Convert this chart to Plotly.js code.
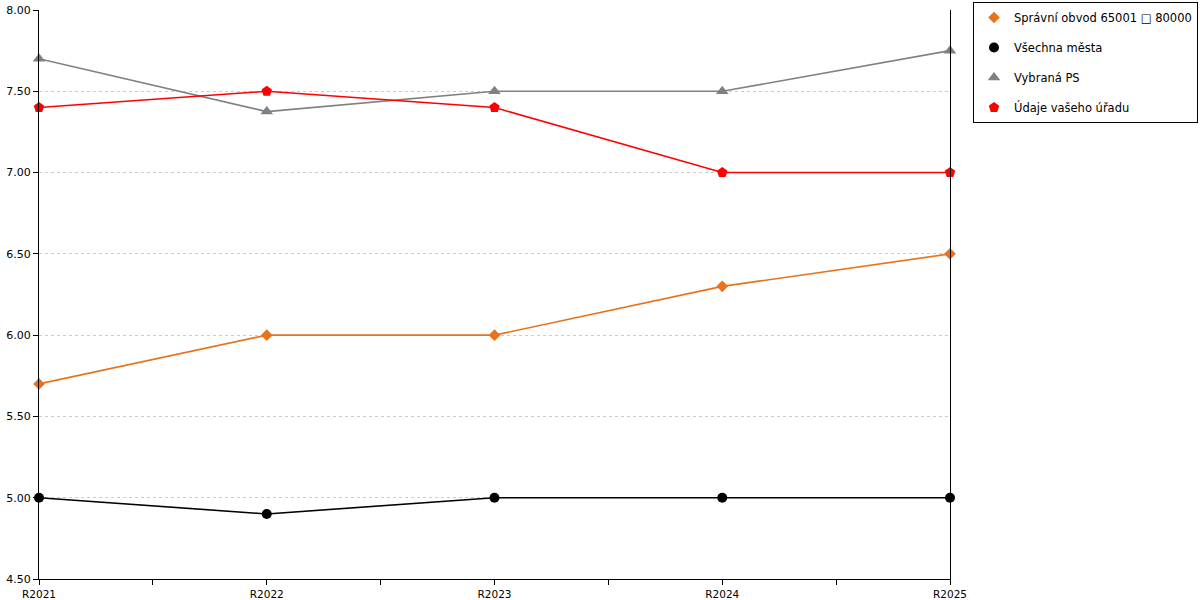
<!DOCTYPE html>
<html><head><meta charset="utf-8">
<script src="https://cdn.plot.ly/plotly-3.0.1.min.js"></script>
<style>html,body{margin:0;padding:0;background:#fff}#chart{width:1200px;height:600px}</style>
</head><body><div id="chart"></div>
<script>
const categories = ["R2021","R2022","R2023","R2024","R2025"];
const spravniObvod = [5.70, 6.00, 6.00, 6.30, 6.50];
const vsechnaMesta = [5.00, 4.90, 5.00, 5.00, 5.00];
const vybranaPS = [7.70, 7.375, 7.50, 7.50, 7.75];
const udajeUradu = [7.40, 7.50, 7.40, 7.00, 7.00];
const seriesNames = ["Správní obvod 65001 □ 80000","Všechna města","Vybraná PS","Údaje vašeho úřadu"];
const yTicks = [4.5,5.0,5.5,6.0,6.5,7.0,7.5,8.0];

const xIdx = categories.map((c,i)=>i);
const tickvals = [], ticktext = [];
categories.forEach((c,i)=>{ tickvals.push(i); ticktext.push(c); if(i<categories.length-1){tickvals.push(i+0.5); ticktext.push("");} });

const series = [
  {y:spravniObvod,name:seriesNames[0],color:'#E8731C',symbol:'diamond',size:9},
  {y:vsechnaMesta,name:seriesNames[1],color:'#000000',symbol:'circle',size:10},
  {y:vybranaPS,name:seriesNames[2],color:'#808080',symbol:'triangle-up',size:11},
  {y:udajeUradu,name:seriesNames[3],color:'#FF0000',symbol:'pentagon',size:11}
];
const data = [];
series.forEach((s,i)=>{
  data.push({x:xIdx,y:s.y,name:s.name,type:'scatter',mode:'lines+markers',
    line:{color:s.color,width:1.6},marker:{color:s.color,symbol:s.symbol,size:s.size},
    showlegend:false,cliponaxis:false,
    hovertemplate:'%{y:.2f}<extra>'+s.name+'</extra>'});
});
series.forEach((s,i)=>{
  data.push({x:[null],y:[null],name:s.name,type:'scatter',mode:'markers',
    marker:{color:s.color,symbol:s.symbol,size:s.size},
    legendgroup:'g'+i,showlegend:true,hoverinfo:'skip'});
});
const layout = {
  width:1200,height:600,
  margin:{l:39,r:250,t:10,b:21,autoexpand:false},
  paper_bgcolor:'#fff',plot_bgcolor:'#fff',
  font:{family:'DejaVu Sans, Verdana, sans-serif',size:11,color:'#000'},
  showlegend:true,
  legend:{x:(973-39)/911,xanchor:'left',y:1+8/569,yanchor:'top',
    bordercolor:'#000',borderwidth:1,bgcolor:'#fff',
    font:{size:11.5,color:'#000'},traceorder:'grouped',tracegroupgap:11},
  xaxis:{range:[0,4],tickmode:'array',tickvals:tickvals,ticktext:ticktext,
    showline:true,linecolor:'#000',linewidth:1,ticks:'outside',ticklen:5,tickcolor:'#000',
    showgrid:false,zeroline:false,fixedrange:true,tickfont:{size:10.5}},
  yaxis:{range:[4.5,8.0],tickmode:'array',tickvals:yTicks,ticktext:yTicks.map(v=>v.toFixed(2)),
    showline:true,mirror:true,linecolor:'#000',linewidth:1,ticks:'outside',ticklen:5,tickcolor:'#000',
    showgrid:true,gridcolor:'#cccccc',griddash:'dot',gridwidth:1,zeroline:false,fixedrange:true,tickfont:{size:11}}
};
Plotly.newPlot('chart',data,layout,{displayModeBar:false});
</script></body></html>
